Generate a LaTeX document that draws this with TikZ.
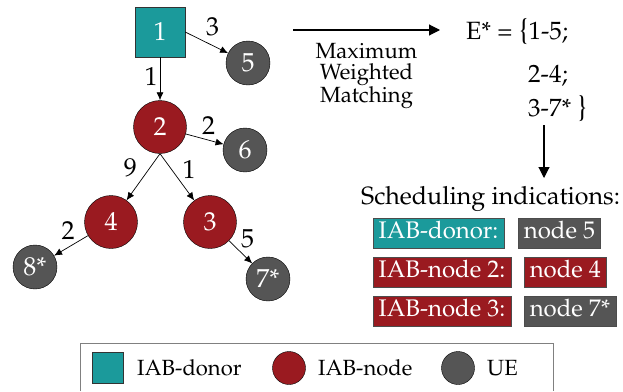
\documentclass[tikz,border=0pt]{standalone}
\usepackage[T1]{fontenc}
\usepackage{mathpazo}
\usetikzlibrary{arrows.meta,positioning}
\definecolor{donorteal}{HTML}{1B9A9B}
\definecolor{iabred}{HTML}{9A1A20}
\definecolor{uegray}{HTML}{555555}
\newcommand{\fs}[1]{\fontsize{#1}{#1}\selectfont}
\newcommand{\bigbrace}[1]{{\fontsize{29}{29}\selectfont#1}}

\begin{document}
\begin{tikzpicture}[x=1pt,y=-1pt,
    donor/.style={draw=black!80, fill=donorteal, text=white, minimum size=50pt, inner sep=0pt, font=\fs{26}},
    iab/.style={circle, draw=black, fill=iabred, text=white, minimum size=53pt, inner sep=0pt, font=\fs{26}},
    ue/.style={circle, draw=black, fill=uegray, text=white, minimum size=44pt, inner sep=0pt, font=\fs{26}},
    link/.style={-{Latex[length=8pt,width=7pt]}, line width=0.7pt},
    wt/.style={midway, font=\fs{26}, inner sep=0pt},
    bigarrow/.style={-{Triangle[length=11pt,width=11pt]}, line width=1.1pt},
    tag/.style={draw=black!70, text=white, font=\fs{24}, inner xsep=5.5pt, inner ysep=3.5pt, text height=17pt, text depth=6pt}]
    \useasboundingbox (0,0) rectangle (623,391);

    % the tree
    \node[donor] (n1) at (160,32) {1};
    \node[ue] (n5) at (248,63) {5};
    \node[iab] (n2) at (160,127) {2};
    \node[ue] (n6) at (245,150) {6};
    \node[iab] (n4) at (111,222) {4};
    \node[iab] (n3) at (210,222) {3};
    \node[ue] (n8) at (35,267) {8*};
    \node[ue] (n7) at (268,279) {7*};

    \draw[link] (n1.east) -- node[wt, xshift=6pt, yshift=16pt] {3} (n5);
    \draw[link] (n1) -- node[wt, xshift=-9pt, yshift=2pt] {1} (n2);
    \draw[link] (n2) -- node[wt, xshift=4pt, yshift=14pt] {2} (n6);
    \draw[link] (n2.south) -- node[wt, xshift=-13pt, yshift=9pt] {9} (n4);
    \draw[link] (n2.south) -- node[wt, xshift=12pt, yshift=8pt] {1} (n3);
    \draw[link] (n4) -- node[wt, xshift=-3pt, yshift=15pt] {2} (n8);
    \draw[link] (n3) -- node[wt, xshift=7pt, yshift=13pt] {5} (n7);

    % matching
    \coordinate (mstart) at (293,30);
    \coordinate (mend) at (440,30);
    \draw[bigarrow] (mstart) -- node[below=13pt, inner sep=0pt, align=center, font={\fontsize{22}{21}\selectfont}] (mwm) {Maximum\\Weighted\\Matching} (mend);

    \node[anchor=base west, inner sep=0pt, font=\fs{25}] (eset) at (466,39) {E* = \bigbrace{\{}1-5;};
    \node[anchor=base west, inner sep=0pt, font=\fs{25}] (e24) at (528,82) {2-4;};
    \node[anchor=base west, inner sep=0pt, font=\fs{25}] (e37) at (528,116) {3-7* \bigbrace{\}}};

    \coordinate (dstart) at (544,125);
    \coordinate (dend) at (544,178);
    \draw[bigarrow] (dstart) -- (dend);

    % scheduling
    \node[anchor=base west, inner sep=0pt, font=\fs{25}] (sched) at (361,204) {Scheduling indications:};
    \node[tag, fill=donorteal, anchor=west] (sdonor) at (373,233) {IAB-donor:};
    \node[tag, fill=uegray, right=14pt of sdonor] (s5) {node 5};
    \node[tag, fill=iabred, anchor=west] (siab2) at (373,272) {IAB-node 2:};
    \node[tag, fill=iabred, right=13pt of siab2] (s4) {node 4};
    \node[tag, fill=iabred, anchor=west] (siab3) at (373,311) {IAB-node 3:};
    \node[tag, fill=uegray, right=13pt of siab3] (s7) {node 7*};

    % legend
    \draw[black!50, line width=0.8pt] (80,391) |- (553,343) -- (553,391);
    \node[donor, minimum size=31pt] (kdonor) at (108,368) {};
    \node[anchor=west, inner sep=0pt, font=\fs{22}] (tdonor) at (137,368) {IAB-donor};
    \node[iab, minimum size=33pt] (kiab) at (289,368) {};
    \node[anchor=west, inner sep=0pt, font=\fs{22}] (tiab) at (318,368) {IAB-node};
    \node[ue, minimum size=33pt] (kue) at (458,368) {};
    \node[anchor=west, inner sep=0pt, font=\fs{22}] (tue) at (487,368) {UE};
\end{tikzpicture}
\end{document}
